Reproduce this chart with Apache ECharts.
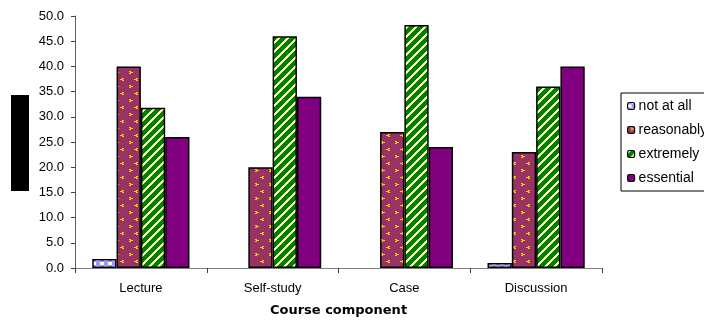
<!DOCTYPE html>
<html>
<head>
<meta charset="utf-8">
<script src="https://cdn.jsdelivr.net/npm/echarts@6/dist/echarts.min.js"></script>
<style>
  html, body { margin: 0; padding: 0; background: #fff; }
  #chart { width: 704px; height: 326px; }
</style>
</head>
<body>
<div id="chart"></div>
<script>
// Course components on the x axis
const categories = ['Lecture', 'Self-study', 'Case', 'Discussion'];

// Percentage of responses per rating (null = no responses)
const notAtAll   = [1.8, null, null, 1.0];
const reasonably = [40.0, 20.0, 27.0, 23.0];
const extremely  = [31.8, 46.0, 48.2, 36.0];
const essential  = [26.0, 34.0, 24.0, 40.0];

const seriesNames = ['not at all', 'reasonably', 'extremely', 'essential'];
const yTicks = { min: 0, max: 50, step: 5 };

// --- fill patterns ---------------------------------------------------------
function makeTile(w, h, painter) {
  const c = document.createElement('canvas');
  c.width = w; c.height = h;
  const ctx = c.getContext('2d');
  painter(ctx, w, h);
  return c;
}

// light blue checker
const checkTile = makeTile(8, 8, (ctx) => {
  ctx.fillStyle = '#9999FF';
  ctx.fillRect(0, 0, 8, 8);
  ctx.fillStyle = '#FFFFFF';
  ctx.fillRect(0, 2, 4, 3);
  ctx.fillRect(4, 6, 4, 2);
  ctx.fillRect(4, 0, 4, 1);
});

// plum with small yellow chevrons in two offset columns
const chevronTile = makeTile(14, 14, (ctx) => {
  ctx.fillStyle = '#993366';
  ctx.fillRect(0, 0, 14, 14);
  ctx.fillStyle = '#FFCC00';
  // ">" column
  ctx.fillRect(3, 1, 2, 1);
  ctx.fillRect(5, 2, 2, 1);
  ctx.fillRect(3, 3, 2, 1);
  ctx.fillRect(4, 2, 1, 1);
  // "<" column
  ctx.fillRect(10, 8, 2, 1);
  ctx.fillRect(8, 9, 2, 1);
  ctx.fillRect(10, 10, 2, 1);
  ctx.fillRect(10, 9, 1, 1);
});

// green with pale yellow diagonal stripes
const stripeTile = makeTile(9, 9, (ctx, s) => {
  const img = ctx.createImageData(s, s);
  for (let y = 0; y < s; y++) {
    for (let x = 0; x < s; x++) {
      const i = (y * s + x) * 4;
      const light = ((x + y) % s) < 3;
      img.data[i]     = light ? 255 : 0;
      img.data[i + 1] = light ? 255 : 128;
      img.data[i + 2] = light ? 190 : 0;
      img.data[i + 3] = 255;
    }
  }
  ctx.putImageData(img, 0, 0);
});

const fills = [
  { image: checkTile, repeat: 'repeat' },
  { image: chevronTile, repeat: 'repeat' },
  { image: stripeTile, repeat: 'repeat' },
  '#800080'
];
const dataSets = [notAtAll, reasonably, extremely, essential];

const FONT = '"Liberation Sans", Arial, sans-serif';

const chart = echarts.init(document.getElementById('chart'), null, { renderer: 'canvas' });

chart.setOption({
  animation: false,
  backgroundColor: '#ffffff',
  grid: { left: 75, right: 102, top: 16, bottom: 58, containLabel: false },
  legend: {
    orient: 'vertical',
    left: 621,
    top: 93,
    itemWidth: 7,
    itemHeight: 7,
    itemGap: 10,
    padding: [6, 5, 6, 6],
    borderColor: '#000',
    borderWidth: 1,
    textStyle: { fontFamily: FONT, fontSize: 14, color: '#000', padding: [0, 0, 0, -1] },
    itemStyle: { borderColor: '#000', borderWidth: 1.2 },
    data: seriesNames
  },
  xAxis: {
    type: 'category',
    data: categories,
    axisLine: { lineStyle: { color: '#808080', width: 1 } },
    axisTick: { show: true, length: 5, lineStyle: { color: '#404040' } },
    axisLabel: { fontFamily: FONT, fontSize: 13, color: '#000', margin: 14 },
    name: 'Course component',
    nameLocation: 'middle',
    nameGap: 36,
    nameTextStyle: { fontFamily: '"DejaVu Sans", sans-serif', fontSize: 13, fontWeight: 'bold', color: '#000' }
  },
  yAxis: {
    type: 'value',
    min: yTicks.min,
    max: yTicks.max,
    interval: yTicks.step,
    axisLine: { show: true, lineStyle: { color: '#606060', width: 1 } },
    axisTick: { show: true, length: 4, lineStyle: { color: '#404040' } },
    axisLabel: {
      fontFamily: FONT, fontSize: 13, color: '#000', margin: 11,
      formatter: (v) => v.toFixed(1)
    },
    splitLine: { show: false }
  },
  series: seriesNames.map((name, k) => ({
    name,
    type: 'bar',
    data: dataSets[k],
    barWidth: 24.3,
    barGap: '0%',
    itemStyle: { color: fills[k], borderColor: '#000', borderWidth: 1.5 }
  })),
  graphic: [
    { type: 'rect', left: 11, top: 95, shape: { width: 18, height: 96 }, style: { fill: '#000' } }
  ]
});
</script>
</body>
</html>
